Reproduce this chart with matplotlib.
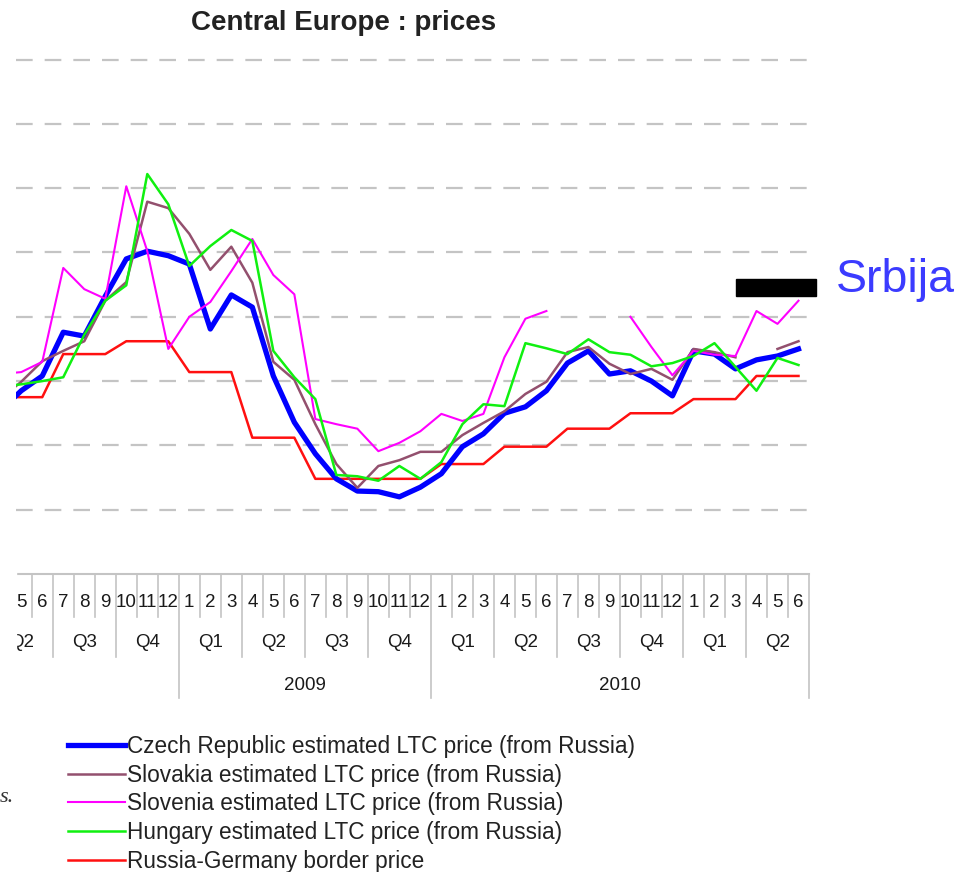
import numpy as np
import matplotlib
matplotlib.use("Agg")
import matplotlib.pyplot as plt
from matplotlib.patches import Rectangle

plt.rcParams['font.family'] = ['Liberation Sans', 'DejaVu Sans']

# months Apr 2008 .. Jun 2011 (Apr 2008 is just left of the visible area)
month_labels = ["4", "5", "6", "7", "8", "9", "10", "11", "12",
                "1", "2", "3", "4", "5", "6", "7", "8", "9", "10", "11", "12",
                "1", "2", "3", "4", "5", "6", "7", "8", "9", "10", "11", "12",
                "1", "2", "3", "4", "5", "6"]
quarter_labels = ["Q2", "Q3", "Q4", "Q1", "Q2", "Q3", "Q4",
                  "Q1", "Q2", "Q3", "Q4", "Q1", "Q2"]
year_labels = ["2009", "2010"]

czech = [254, 285, 308, 376, 370, 432, 490, 502, 495, 482, 381, 434, 415,
         308, 236, 187, 148, 129, 128, 120, 135, 156, 198, 218, 250, 260,
         285, 328, 347, 311, 316, 300, 277, 347, 342, 319, 333, 339, 350]
slovakia = [272, 299, 331, 347, 362, 425, 454, 579, 569, 529, 473, 509, 453,
            330, 302, 233, 171, 134, 168, 177, 190, 190, 216, 235, 253, 280,
            299, 345, 353, 327, 311, 319, 302, 350, 345, 337, np.nan, 350, 362]
slovenia = [311, 314, 330, 476, 443, 428, 603, 502, 350, 400, 423, 471, 521,
            465, 435, 241, 233, 226, 191, 204, 222, 249, 238, 249, 337, 397,
            409, np.nan, np.nan, np.nan, 400, 353, 309, 347, 341, 339, 409, 389, 425]
hungary = [291, 295, 300, 306, 372, 425, 449, 622, 575, 479, 510, 535, 518,
           347, 306, 272, 154, 152, 145, 168, 148, 174, 233, 264, 261, 359,
           351, 342, 365, 345, 341, 323, 328, 339, 359, 322, 285, 336, 325]
border = [275, 275, 275, 342, 342, 342, 362, 362, 362, 314, 314, 314, 212,
          212, 212, 148, 148, 148, 148, 148, 148, 171, 171, 171, 198, 198,
          198, 226, 226, 226, 250, 250, 250, 272, 272, 272, 308, 308, 308]

W, H = 972, 872
fig = plt.figure(figsize=(W / 100, H / 100), dpi=100)
fig.patch.set_facecolor('white')


def fx(px):
    return px / W


def fy(py):
    return 1 - py / H


ax_top, ax_bot, ax_l, ax_r = 40.3, 574, 16, 809
ax = fig.add_axes([fx(ax_l), fy(ax_bot), (ax_r - ax_l) / W, (ax_bot - ax_top) / H])
ax_h = ax_bot - ax_top

x = np.arange(len(month_labels))
ax.plot(x, border, color='#ff1010', lw=1.8, label='Russia-Germany border price', zorder=2)
ax.plot(x, czech, color='#0000ff', lw=3.8, label='Czech Republic estimated LTC price (from Russia)', zorder=3)
ax.plot(x, slovakia, color='#93506e', lw=1.8, label='Slovakia estimated LTC price (from Russia)', zorder=4)
ax.plot(x, slovenia, color='#ff00ff', lw=1.5, label='Slovenia estimated LTC price (from Russia)', zorder=5)
ax.plot(x, hungary, color='#10f010', lw=1.8, label='Hungary estimated LTC price (from Russia)', zorder=6)

ax.set_xlim(0.75, 38.5)
ax.set_ylim(0, 830)
ax.set_yticks(range(100, 900, 100))
ax.yaxis.grid(True, color='#c4c4c4', lw=1.6, linestyle=(0, (7.5, 5.4)))
ax.set_axisbelow(True)
ax.tick_params(axis='y', length=0, labelleft=False)
ax.set_xticks([])
for s in ['top', 'left', 'right']:
    ax.spines[s].set_visible(False)
ax.spines['bottom'].set_color('#c4c4c4')
ax.spines['bottom'].set_linewidth(1.5)

tr = ax.get_xaxis_transform()


def off(px):
    return -px / ax_h


# separators under the axis
bounds = np.arange(1.5, 38.5, 1.0)
depth = []
for b in bounds:
    if b in (8.5, 20.5):
        depth.append(124)
    elif (b - 2.5) % 3 == 0:
        depth.append(83)
    else:
        depth.append(43)
for b, d in zip(bounds, depth):
    ax.plot([b, b], [0, off(d)], transform=tr, color='#c4c4c4', lw=1.2, clip_on=False)
ax.plot([38.5, 38.5], [0, off(124)], transform=tr, color='#c4c4c4', lw=1.2, clip_on=False)

for i, lab in enumerate(month_labels):
    if i == 0:
        continue
    ax.text(i, off(607 - ax_bot), lab, transform=tr, ha='center', va='baseline',
            fontsize=13.5, color='#1a1a1a', clip_on=False)
for k, lab in enumerate(quarter_labels):
    ax.text(1 + 3 * k, off(647 - ax_bot), lab, transform=tr, ha='center', va='baseline',
            fontsize=13.5, color='#1a1a1a', clip_on=False)
for (a, b), lab in zip([(8.5, 20.5), (20.5, 38.5)], year_labels):
    ax.text((a + b) / 2, off(690 - ax_bot), lab, transform=tr, ha='center', va='baseline',
            fontsize=13.5, color='#1a1a1a', clip_on=False)

# cropped left edge of the category axis
fig.add_artist(Rectangle((0, fy(720)), fx(ax_l), fy(560) - fy(720), transform=fig.transFigure,
                         color='white', zorder=10))

fig.text(fx(344), fy(30), 'Central Europe : prices', ha='center', va='baseline',
         fontsize=20, fontweight='bold', color='#222222')

# Srbija marker
fig.add_artist(Rectangle((fx(736), fy(296)), fx(816) - fx(736), fy(279) - fy(296),
                         transform=fig.transFigure, color='black', zorder=5))
fig.text(fx(836), fy(292), 'Srbija', ha='left', va='baseline', fontsize=33.5, color='#3b3bff')

handles, labels = ax.get_legend_handles_labels()
order = [1, 2, 3, 4, 0]
fig.legend([handles[i] for i in order], [labels[i] for i in order],
           loc='upper left', bbox_to_anchor=(fx(68), fy(735)), frameon=False,
           fontsize=16.3, handlelength=2.5, handletextpad=0.1, labelspacing=0.25,
           borderpad=0, borderaxespad=0, labelcolor='#222222')

fig.text(fx(0), fy(802), 's.', ha='left', va='baseline', fontsize=16, style='italic',
         family='Liberation Serif', color='#333333')

fig.savefig('out.png', dpi=100, facecolor='white')
